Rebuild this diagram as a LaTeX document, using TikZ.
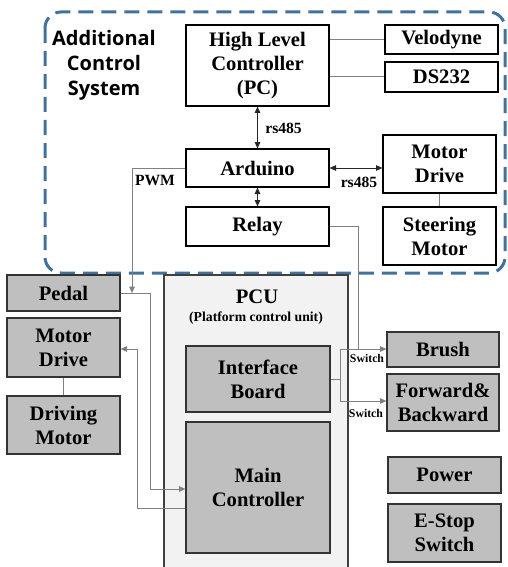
\documentclass[tikz,border=0pt]{standalone}
\usepackage{fontspec}
\setmainfont{Liberation Serif}
\newfontfamily\headfont{Open Sans}
\usetikzlibrary{arrows.meta}
\definecolor{dashblue}{RGB}{65,113,156}
\definecolor{boxgrey}{RGB}{191,191,191}
\definecolor{pcugrey}{RGB}{242,242,242}
\definecolor{wiregrey}{RGB}{128,128,128}

\begin{document}
\begin{tikzpicture}[x=0.5pt, y=-0.5pt,
    block/.style={rectangle, draw=black, line width=0.6pt, fill=white,
                  minimum width=56.5pt, inner sep=0pt, align=center,
                  font=\fontsize{10.3}{12}\selectfont\bfseries},
    greyblock/.style={block, fill=boxgrey, draw=black!80},
    wire/.style={draw=wiregrey, line width=0.5pt},
    link/.style={draw=black!85, line width=0.5pt},
    lbl/.style={inner sep=0pt, font=\fontsize{7.8}{9}\selectfont\bfseries},
    swlbl/.style={inner sep=0pt, font=\fontsize{5.9}{7}\selectfont\bfseries},
    >={Triangle[length=3.2pt,width=2.8pt]},
]
    \useasboundingbox (0,0) rectangle (508,567);

    % Frame of the add-on system
    \draw[dashblue, line width=1.5pt, dash pattern=on 7.5pt off 4pt,
          rounded corners=8pt] (45,12) rectangle (505,273);
    \node[align=center, inner sep=0pt, font=\headfont\bfseries\fontsize{10}{12.5}\selectfont]
          (addon) at (104,65) {Additional\\Control\\System};

    % Upper part: PC, sensors, Arduino
    \node[block, minimum width=71.5pt, minimum height=40.5pt] (hlc) at (257.5,65.5) {High Level\\Controller\\(PC)};
    \node[block, minimum height=14.5pt] (velo) at (441.5,39.5) {Velodyne};
    \node[block, minimum height=15pt] (ds) at (441.5,77) {DS232};
    \node[block, minimum width=71.5pt, minimum height=19pt] (ardu) at (257.5,168) {Arduino};
    \node[block, minimum width=71.5pt, minimum height=19.5pt] (relay) at (257.5,226.5) {Relay};
    \node[block, minimum height=29pt] (steerdrv) at (439.5,164) {Motor\\Drive};
    \node[block, minimum height=29pt] (steer) at (439.5,236) {Steering\\Motor};

    % Platform control unit
    \node[draw=black!75, fill=pcugrey, line width=0.6pt, inner sep=0pt,
          minimum width=92pt, minimum height=152.5pt] (pcu) at (256,427.5) {};
    \node[inner sep=0pt, font=\fontsize{10.3}{12}\selectfont\bfseries] (pcutitle) at (257,297) {PCU};
    \node[inner sep=0pt, font=\fontsize{6.85}{8}\selectfont\bfseries] (pcusub) at (256,318) {(Platform control unit)};
    \node[greyblock, minimum width=72pt, minimum height=33pt] (iface) at (258,379) {Interface\\Board};
    \node[greyblock, minimum width=72pt, minimum height=65.5pt] (mainctl) at (258,487.5) {Main\\Controller};

    % Left side
    \node[greyblock, minimum height=18pt] (pedal) at (63.5,293) {Pedal};
    \node[greyblock, minimum height=29.5pt] (drivedrv) at (63.5,347.5) {Motor\\Drive};
    \node[greyblock, minimum height=29pt] (drivemot) at (63.5,425) {Driving\\Motor};

    % Right side
    \node[greyblock, minimum width=56pt, minimum height=17.5pt] (brush) at (443,349.5) {Brush};
    \node[greyblock, minimum width=56pt, minimum height=28.5pt] (fwdbwd) at (443,402.5) {Forward\&\\Backward};
    \node[greyblock, minimum height=18pt] (power) at (444.5,475) {Power};
    \node[greyblock, minimum height=29pt] (estop) at (444.5,533) {E-Stop\\Switch};

    % Connections inside the frame
    \draw[wire] (hlc.east |- velo) -- (velo.west);
    \draw[wire] (hlc.east |- ds) -- (ds.west);
    \draw[link, <->] (hlc) -- (ardu);
    \node[lbl, anchor=west] (rsup) at (265,128) {rs485};
    \draw[link, <->] (ardu) -- (relay);
    \draw[link, <->] (ardu.east) -- (ardu.east -| steerdrv.west);
    \node[lbl] (rsside) at (359,182) {rs485};
    \draw[wire] (steerdrv) -- (steer);

    % PWM down to the pedal line
    \coordinate (pwmtap) at (132,293);
    \draw[wire, ->] (ardu.west) -| (pwmtap);
    \node[lbl] (pwm) at (155,181) {PWM};

    % Pedal and motor drive to the main controller
    \coordinate (pedalbend) at (150,293);
    \draw[wire, ->] (pedal.east) -- (pedalbend) |- (mainctl.west |- 0,489);
    \coordinate (drvbend) at (137,508);
    \draw[wire, ->] (mainctl.west |- drvbend) -- (drvbend) |- (drivedrv.east |- 0,349);
    \draw[wire] (drivedrv) -- (drivemot);

    % Interface board switches
    \coordinate (swtop) at (340,349);
    \coordinate (swbot) at (340,401);
    \draw[wire] (iface.east) -- (iface.east -| swtop);
    \draw[wire] (swtop) -- (swbot);
    \draw[wire, ->] (swtop) -- (brush.west |- swtop);
    \draw[wire, ->] (swbot) -- (fwdbwd.west |- swbot);
    \draw[wire] (relay.east) -| (358,349);
    \node[swlbl] (swa) at (367,358) {Switch};
    \node[swlbl] (swb) at (366,413) {Switch};
\end{tikzpicture}
\end{document}
